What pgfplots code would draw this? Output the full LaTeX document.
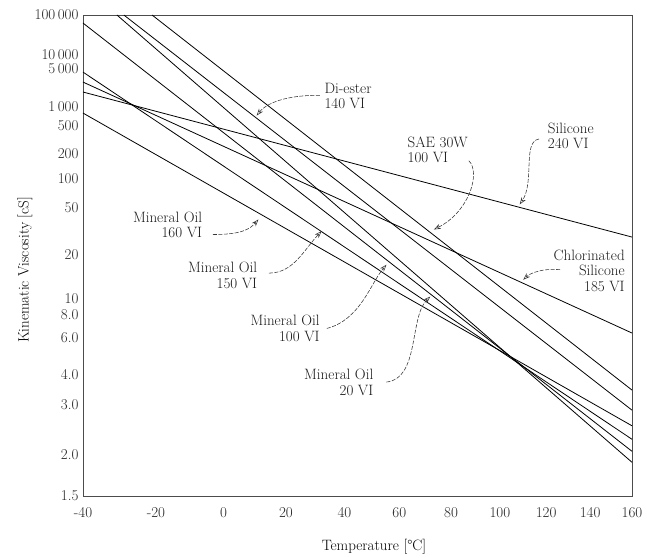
\documentclass[border=0pt]{standalone}
\usepackage{fontspec}
\usepackage{pgfplots}
\pgfplotsset{compat=1.18}
\usetikzlibrary{arrows.meta}
\pgfplotsset{
  vis/.style={black, line width=0.8pt},
}
\newcommand{\visline}[4]{%
  \addplot[vis] table[row sep=\\,
     x expr={ln(\thisrow{T}+273.15)/ln(10)},
     y expr={ln(ln(\thisrow{v}+0.7)/ln(10))/ln(10)}]
     {T v\\ #1 #2\\ #3 #4\\};}
\begin{document}
\begin{tikzpicture}[ann/.style={font=\fontsize{15}{15.5}\selectfont, inner sep=0pt, text=black!90},
  arr/.style={black!80, line width=0.55pt, dash pattern=on 4pt off 1.5pt, -{Stealth[open,length=7pt,width=5pt]}}]
\begin{axis}[
  scale only axis, width=549pt, height=481pt,
  xmin=2.367635, xmax=2.636639, ymin=-0.46543, ymax=0.698970,
  % temperature ticks at log10(T+273.15)
  xtick={2.367635,2.403378,2.436481,2.467090,2.495752,2.522640,2.547959,2.571883,2.594558,2.616108,2.636639},
  xticklabels={-40,-20,0,20,40,60,80,100,120,140,160},
  % viscosity ticks at log10(log10(v+0.7))
  ytick={-0.46543,-0.36516,-0.24549,-0.17257,-0.08299,-0.02709,0.012577,0.119247,0.231726,0.301687,0.362207,0.431296,0.477165,0.568088,0.602063,0.698970},
  yticklabels={1.5,2.0,3.0,4.0,6.0,8.0,10,20,50,100,200,500,1\,000,5\,000,10\,000,100\,000},
  major tick length=0pt,
  tick label style={font=\fontsize{15}{16}\selectfont, text=black!85},
  xticklabel style={yshift=-8pt},
  yticklabel style={xshift=-1pt},
  axis line style={black!70, line width=0.9pt},
  xlabel={Temperature [°C]}, ylabel={Kinematic Viscosity [cS]},
  label style={font=\fontsize{15}{16}\selectfont},
  xlabel style={at={(axis description cs:0.53,-0.105)}, anchor=center},
  ylabel style={at={(axis description cs:-0.106,0.47)}, anchor=center},
  clip=true,
]
% Silicone 240 VI
\visline{-40}{1800}{160}{27.5}
% Chlorinated Silicone 185 VI
\visline{-40}{2760}{160}{6.37}
% Mineral Oil 150 VI
\visline{-40}{4350}{160}{2.25}
% Mineral Oil 160 VI
\visline{-40}{785}{160}{2.51}
% Mineral Oil 100 VI
\visline{-40}{60500}{160}{2.05}
% Mineral Oil 20 VI
\visline{-30.9}{100000}{160}{1.89}
% Di-ester 140 VI
\visline{-29.0}{100000}{160}{2.87}
% SAE 30W 100 VI
\visline{-21.1}{100000}{160}{3.45}

% annotations
\node[ann, anchor=west, align=left] at (rel axis cs:0.4396,0.8317) {Di-ester\\140 VI};
\draw[arr] (rel axis cs:0.4313,0.8328) .. controls (rel axis cs:0.383,0.834) and (rel axis cs:0.338,0.822) .. (rel axis cs:0.3163,0.7909);
\node[ann, anchor=west, align=left] at (rel axis cs:0.591,0.7195) {SAE 30W\\100 VI};
\draw[arr] (rel axis cs:0.7029,0.6969) .. controls (rel axis cs:0.725,0.672) and (rel axis cs:0.703,0.590) .. (rel axis cs:0.639,0.554);
\node[ann, anchor=west, align=left] at (rel axis cs:0.8466,0.7491) {Silicone\\240 VI};
\draw[arr] (rel axis cs:0.8307,0.7422) .. controls (rel axis cs:0.800,0.737) and (rel axis cs:0.823,0.652) .. (rel axis cs:0.7955,0.6063);
\node[ann, anchor=east, align=right] at (rel axis cs:0.987,0.469) {Chlorinated\\Silicone\\185 VI};
\draw[arr] (rel axis cs:0.869,0.4704) .. controls (rel axis cs:0.837,0.474) and (rel axis cs:0.8147,0.4634) .. (rel axis cs:0.8019,0.4495);
\node[ann, anchor=east, align=right] at (rel axis cs:0.2173,0.5634) {Mineral Oil\\160 VI};
\draw[arr] (rel axis cs:0.2364,0.5436) .. controls (rel axis cs:0.2875,0.5436) and (rel axis cs:0.3035,0.554) .. (rel axis cs:0.3195,0.5749);
\node[ann, anchor=east, align=right] at (rel axis cs:0.3176,0.4592) {Mineral Oil\\150 VI};
\draw[arr] (rel axis cs:0.3387,0.4634) .. controls (rel axis cs:0.3834,0.4634) and (rel axis cs:0.4026,0.5122) .. (rel axis cs:0.4345,0.5505);
\node[ann, anchor=east, align=right] at (rel axis cs:0.4313,0.3484) {Mineral Oil\\100 VI};
\draw[arr] (rel axis cs:0.4441,0.3484) .. controls (rel axis cs:0.5048,0.3659) and (rel axis cs:0.524,0.4425) .. (rel axis cs:0.5527,0.4808);
\node[ann, anchor=east, align=right] at (rel axis cs:0.5291,0.2362) {Mineral Oil\\20 VI};
\draw[arr] (rel axis cs:0.5527,0.2369) .. controls (rel axis cs:0.6134,0.2439) and (rel axis cs:0.5942,0.3728) .. (rel axis cs:0.6326,0.4146);
\end{axis}
\path (-83pt,-61pt) rectangle (564pt,496pt);
\end{tikzpicture}
\end{document}
